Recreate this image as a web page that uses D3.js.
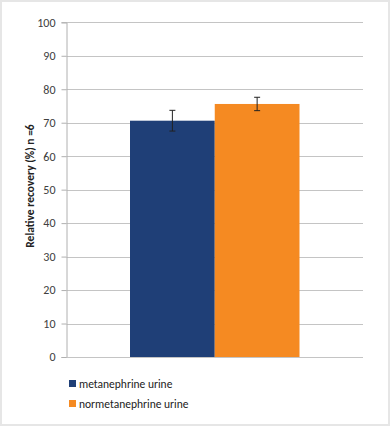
<!DOCTYPE html>
<html><head><meta charset="utf-8">
<script src="https://cdn.jsdelivr.net/npm/d3@7"></script>
<style>html,body{margin:0;padding:0;background:#fff;}svg{display:block;}</style>
</head><body>
<script>
const categories = ["metanephrine urine", "normetanephrine urine"];
const values = [70.6, 75.6];
const errors = [3.1, 2.0];
const colors = ["#1f3f77", "#f58a22"];
const yTicks = [0, 10, 20, 30, 40, 50, 60, 70, 80, 90, 100];
const yTitle = "Relative recovery (%) n =6";

const W = 390, H = 426;
const svg = d3.select("body").append("svg").attr("width", W).attr("height", H);
const font = "Calibri, Carlito, 'Open Sans', 'Liberation Sans', sans-serif";

svg.append("rect").attr("x", 0).attr("y", 0).attr("width", W).attr("height", H).attr("fill", "#e6e6e6");
svg.append("rect").attr("x", 2).attr("y", 2).attr("width", 386).attr("height", 422).attr("fill", "#fff");

const x0 = 66.5, x1 = 363;
const y = d3.scaleLinear().domain([0, 100]).range([357, 22.3]);
const x = d3.scaleBand().domain(categories).range([130, 299.5]).padding(0);

// gridlines
svg.append("g").selectAll("line").data(yTicks.filter(d => d > 0)).join("line")
  .attr("x1", x0).attr("x2", x1)
  .attr("y1", d => Math.round(y(d)) + 0.5).attr("y2", d => Math.round(y(d)) + 0.5)
  .attr("stroke", "#c4c4c4").attr("stroke-width", 1);

// y axis
const ax = svg.append("g").attr("transform", `translate(${x0},0)`)
  .call(d3.axisLeft(y).tickValues(yTicks).tickSize(5).tickPadding(6));
ax.select(".domain").attr("stroke", "#b0b0b0");
ax.selectAll(".tick line").attr("stroke", "#b0b0b0");
ax.selectAll(".tick text").attr("font-family", font).attr("font-size", 12).attr("fill", "#404040");

// bars
svg.append("g").selectAll("rect").data(categories).join("rect")
  .attr("x", d => x(d)).attr("width", x.bandwidth())
  .attr("y", (d, i) => y(values[i])).attr("height", (d, i) => y(0) - y(values[i]))
  .attr("fill", (d, i) => colors[i]);

// x axis baseline
svg.append("line").attr("x1", x0).attr("x2", x1).attr("y1", y(0) + 0.5).attr("y2", y(0) + 0.5)
  .attr("stroke", "#c4c4c4");

// error bars
const eg = svg.append("g").selectAll("g").data(categories).join("g");
eg.append("line")
  .attr("x1", d => x(d) + x.bandwidth() / 2).attr("x2", d => x(d) + x.bandwidth() / 2)
  .attr("y1", (d, i) => y(values[i] + errors[i])).attr("y2", (d, i) => y(values[i] - errors[i]))
  .attr("stroke", "#222").attr("stroke-width", 1);
eg.selectAll("line.cap").data((d, i) => [values[i] + errors[i], values[i] - errors[i]].map(v => ({ d, v })))
  .join("line").attr("class", "cap")
  .attr("x1", o => x(o.d) + x.bandwidth() / 2 - 3).attr("x2", o => x(o.d) + x.bandwidth() / 2 + 3)
  .attr("y1", o => y(o.v)).attr("y2", o => y(o.v))
  .attr("stroke", "#222").attr("stroke-width", 1);

// y title
svg.append("text").attr("transform", `translate(34,186) rotate(-90)`)
  .attr("text-anchor", "middle").attr("font-family", font).attr("font-size", 11.5)
  .attr("font-weight", "bold").attr("fill", "#222").text(yTitle);

// legend
const lg = svg.append("g").selectAll("g").data(categories).join("g")
  .attr("transform", (d, i) => `translate(69,${384 + i * 20})`);
lg.append("rect").attr("x", 0).attr("y", -4).attr("width", 7).attr("height", 7).attr("fill", (d, i) => colors[i]);
lg.append("text").attr("x", 10).attr("y", 0).attr("dy", "0.35em")
  .attr("font-family", font).attr("font-size", 11.5).attr("fill", "#222").text(d => d);
</script>
</body></html>
